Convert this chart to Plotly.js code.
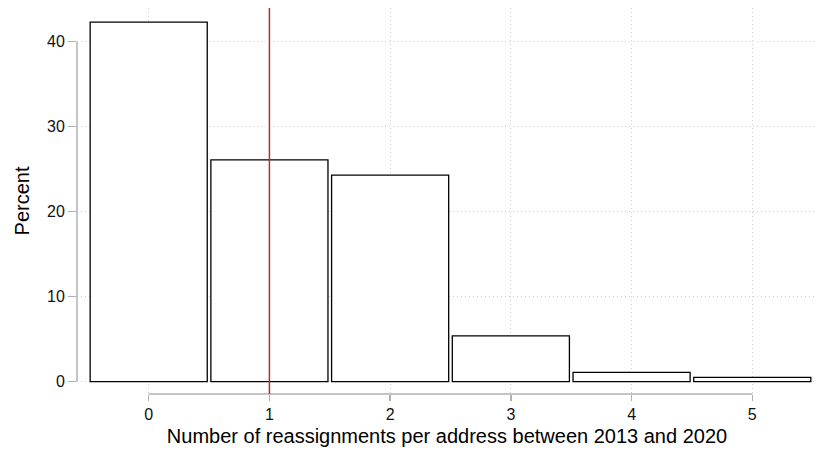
<!DOCTYPE html>
<html>
<head>
<meta charset="utf-8">
<script src="https://cdn.plot.ly/plotly-3.0.1.min.js"></script>
<style>html,body{margin:0;padding:0;background:#fff;}#chart{width:817px;height:453px;}</style>
</head>
<body>
<div id="chart"></div>
<script>
const categories = [0, 1, 2, 3, 4, 5];
const percents = [42.3, 26.1, 24.3, 5.4, 1.1, 0.5];
const xTickLabels = ['0', '1', '2', '3', '4', '5'];
const yTickValues = [0, 10, 20, 30, 40];
const markerValue = 1;
const xTitle = 'Number of reassignments per address between 2013 and 2020';
const yTitle = 'Percent';

const font = 'Liberation Sans, Arial, Helvetica, sans-serif';

const trace = {
  type: 'bar',
  x: categories,
  y: percents,
  width: 0.97,
  marker: {color: '#ffffff', line: {color: '#000000', width: 1.3}},
  hoverinfo: 'skip'
};

const layout = {
  width: 817, height: 453,
  margin: {l: 77, r: 0, t: 8, b: 59, pad: 0},
  paper_bgcolor: '#ffffff', plot_bgcolor: '#ffffff',
  showlegend: false,
  bargap: 0,
  font: {family: font, color: '#111111'},
  xaxis: {
    range: [-0.594, 5.536],
    tickvals: categories, ticktext: xTickLabels,
    ticks: 'outside', ticklen: 6, tickwidth: 1.3, tickcolor: '#b0b0b0',
    showline: false, zeroline: false,
    showgrid: true, gridcolor: '#cfcfcf', griddash: '1px,3px', gridwidth: 1,
    tickfont: {size: 16, family: font, color: '#111111'},
    title: {text: xTitle, font: {size: 20, family: font, color: '#000000'}, standoff: 6},
    automargin: false, fixedrange: true
  },
  yaxis: {
    range: [-1.447, 43.96],
    tickvals: yTickValues,
    ticks: 'outside', ticklen: 8, tickwidth: 1.3, tickcolor: '#b0b0b0',
    showline: false, zeroline: false,
    showgrid: true, gridcolor: '#cfcfcf', griddash: '1px,3px', gridwidth: 1,
    tickfont: {size: 16, family: font, color: '#111111'},
    title: {text: yTitle, font: {size: 20, family: font, color: '#000000'}, standoff: 12},
    automargin: false, fixedrange: true
  },
  shapes: [
    {type: 'line', xref: 'x', yref: 'paper', x0: categories[0], x1: categories[categories.length-1], y0: 0, y1: 0,
     line: {color: '#b0b0b0', width: 1.5}},
    {type: 'line', xref: 'paper', yref: 'y', x0: 0, x1: 0, y0: yTickValues[0], y1: yTickValues[yTickValues.length-1],
     line: {color: '#b0b0b0', width: 1.5}},
    {type: 'line', xref: 'x', yref: 'paper', x0: markerValue, x1: markerValue, y0: 0, y1: 1,
     line: {color: '#a83236', width: 1.5}, layer: 'above'}
  ]
};

Plotly.newPlot('chart', [trace], layout, {displayModeBar: false, staticPlot: true});
</script>
</body>
</html>
